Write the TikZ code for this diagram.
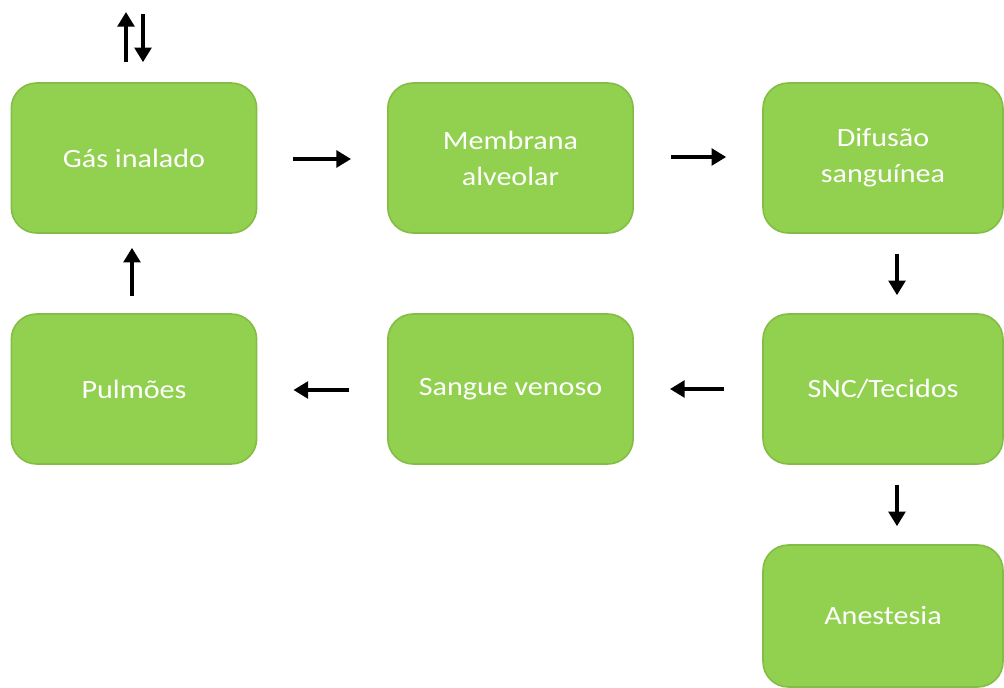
\documentclass[tikz,border=0pt]{standalone}
\usepackage{fontspec}
\newfontfamily\boxfont[FakeStretch=1.14]{Carlito}
\usetikzlibrary{arrows.meta,calc}
\definecolor{boxfill}{HTML}{92D050}
\definecolor{boxline}{HTML}{84BD45}
\begin{document}
\begin{tikzpicture}[x=0.75pt,y=-0.75pt,
  box/.style={draw=boxline, line width=1.2pt, fill=boxfill, rounded corners=19pt,
    minimum width=184pt, minimum height=112.5pt, text=white,
    font=\boxfont\fontsize{19.8}{27}\selectfont, align=center, inner sep=0pt},
  arr/.style={line width=3.4pt, -{Triangle[width=12.5pt,length=11pt]}}]
\useasboundingbox (0,0) rectangle (1004,688);
\node[box] (gas) at (134,158) {Gás inalado};
\node[box] (mem) at (510.5,158) {Membrana\\alveolar};
\node[box, minimum width=180pt] (dif) at (883,158) {Difusão\\sanguínea};
\node[box] (pul) at (134,389) {Pulmões};
\node[box] (san) at (510.5,389) {Sangue venoso};
\node[box, minimum width=180pt] (snc) at (883,389) {SNC/Tecidos};
\node[box, minimum width=180pt, minimum height=106.5pt] (ane) at (883,616) {Anestesia};
\coordinate (inTop) at (126,12);
\coordinate (outTop) at (143,14);
\draw[arr] ($(gas.north)+(-8,-20)$) -- (inTop);
\draw[arr] (outTop) -- ($(gas.north)+(9,-20)$);
\draw[arr] ($(gas.east)+(36,1)$) -- ($(mem.west)+(-36,1)$);
\draw[arr] ($(mem.east)+(37,-1)$) -- ($(dif.west)+(-36,-1)$);
\draw[arr] ($(dif.south)+(14,20)$) -- ($(snc.north)+(14,-18)$);
\draw[arr] ($(snc.west)+(-38,0)$) -- ($(san.east)+(36,0)$);
\draw[arr] ($(san.west)+(-38,1)$) -- ($(pul.east)+(36,1)$);
\draw[arr] ($(pul.north)+(-2,-17)$) -- ($(gas.south)+(-2,14)$);
\draw[arr] ($(snc.south)+(14,20)$) -- ($(ane.north)+(14,-18)$);
\end{tikzpicture}
\end{document}
